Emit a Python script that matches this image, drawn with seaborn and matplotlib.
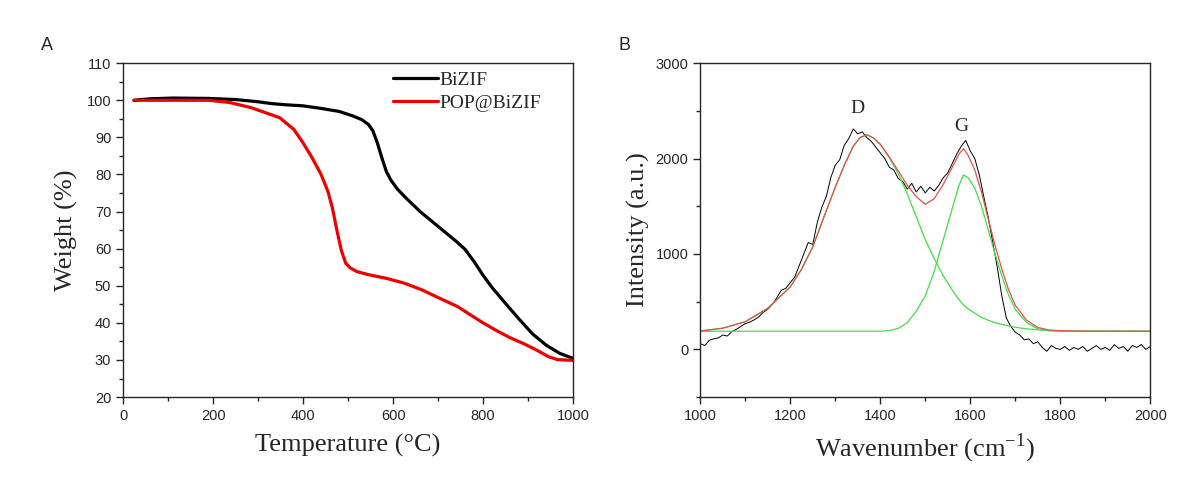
import numpy as np
import matplotlib
matplotlib.use("Agg")
import matplotlib.pyplot as plt
import seaborn as sns
from matplotlib.ticker import MultipleLocator

# ---- panel A: TGA ----
temp_bizif = [24, 60, 111, 190, 250, 300, 330, 360, 400, 440, 480, 510, 530, 545, 555, 565,
              575, 585, 595, 610, 630, 660, 700, 740, 760, 780, 800, 820, 850, 880, 910, 940,
              970, 1000]
weight_bizif = [100.0, 100.4, 100.6, 100.5, 100.2, 99.6, 99.1, 98.8, 98.5, 97.8, 97.0, 95.8,
                94.8, 93.5, 91.8, 88.5, 84.5, 80.8, 78.5, 76.0, 73.5, 70.0, 66.0, 62.0, 59.8,
                56.5, 52.8, 49.5, 45.2, 41.0, 37.0, 34.0, 31.8, 30.4]

temp_pop = [24, 190, 237, 285, 348, 379, 400, 420, 440, 455, 465, 475, 485, 495, 505, 520,
            545, 585, 625, 664, 704, 743, 770, 800, 830, 860, 890, 920, 945, 965, 1000]
weight_pop = [100.0, 100.0, 99.4, 98.0, 95.3, 92.2, 88.5, 84.5, 80.0, 75.5, 71.0, 65.0, 59.5,
              56.0, 54.8, 53.8, 53.0, 52.0, 50.7, 48.9, 46.6, 44.4, 42.3, 40.0, 37.9, 36.0,
              34.4, 32.6, 30.9, 30.1, 29.9]

# ---- panel B: Raman ----
wn_raw = list(range(1000, 2001, 10))
int_raw = [60, 40, 95, 110, 120, 150, 140, 185, 210, 240,
           270, 285, 310, 340, 390, 420, 470, 540, 620, 640,
           700, 760, 880, 1000, 1120, 1100, 1330, 1490, 1600, 1800,
           1930, 1990, 2140, 2210, 2310, 2260, 2280, 2220, 2180, 2120,
           2060, 2000, 1910, 1880, 1790, 1760, 1680, 1740, 1650, 1710,
           1640, 1700, 1660, 1720, 1800, 1850, 1950, 2050, 2130, 2190,
           2080, 2000, 1830, 1600, 1380, 1120, 860, 560, 330, 240,
           180, 150, 100, 110, 60, 80, 20, -20, 40, 10,
           0, 30, -10, 20, 0, 30, -20, 10, 40, 0,
           20, -10, 50, 10, 30, -20, 40, 20, 50, 0,
           30]

wn_fit = [1000, 1050, 1100, 1150, 1200, 1225, 1250, 1275, 1300, 1320, 1340, 1355, 1370, 1385,
          1400, 1420, 1440, 1460, 1480, 1500, 1520, 1540, 1560, 1575, 1585, 1595, 1610, 1625,
          1640, 1655, 1670, 1685, 1700, 1725, 1750, 1775, 1800, 1850, 2000]
peak_d = [192, 222, 290, 430, 655, 840, 1075, 1390, 1700, 1930, 2130, 2220, 2250, 2215,
          2150, 2010, 1840, 1630, 1390, 1150, 950, 770, 620, 520, 465, 425, 380, 335,
          305, 280, 262, 246, 232, 215, 205, 198, 195, 191, 190]
peak_g = [190, 190, 190, 190, 190, 190, 190, 190, 190, 190, 190, 190, 190, 190,
          190, 196, 220, 280, 400, 560, 820, 1150, 1480, 1720, 1830, 1800, 1690, 1500,
          1250, 1000, 770, 570, 420, 280, 215, 195, 191, 190, 190]
fit_sum = [192, 222, 290, 430, 655, 840, 1075, 1390, 1700, 1930, 2130, 2220, 2250, 2215,
           2150, 2016, 1870, 1720, 1600, 1520, 1580, 1730, 1910, 2050, 2105, 2035, 1880, 1645,
           1365, 1090, 842, 626, 462, 305, 230, 203, 196, 191, 190]

sns.set_style("ticks")
plt.rcParams["font.family"] = ["Liberation Sans", "DejaVu Sans"]
plt.rcParams["mathtext.fontset"] = "custom"
plt.rcParams["mathtext.rm"] = "Liberation Serif"
serif = ["Liberation Serif", "DejaVu Serif"]

fig = plt.figure(figsize=(11.95, 4.86), dpi=100)
ax1 = fig.add_axes([0.103, 0.183, 0.3766, 0.687])
ax2 = fig.add_axes([0.586, 0.183, 0.3766, 0.687])

sns.lineplot(x=temp_bizif, y=weight_bizif, ax=ax1, color="black", lw=2.3, label="BiZIF",
             sort=False, estimator=None)
sns.lineplot(x=temp_pop, y=weight_pop, ax=ax1, color="#ee0000", lw=2.3, label="POP@BiZIF",
             sort=False, estimator=None)
ax1.set_xlim(0, 1000)
ax1.set_ylim(20, 110)
ax1.xaxis.set_major_locator(MultipleLocator(200))
ax1.xaxis.set_minor_locator(MultipleLocator(100))
ax1.yaxis.set_major_locator(MultipleLocator(10))
ax1.yaxis.set_minor_locator(MultipleLocator(5))
ax1.set_xlabel("Temperature (°C)", family=serif, fontsize=19, labelpad=8)
ax1.set_ylabel("Weight (%)", family=serif, fontsize=19, labelpad=6)
ax1.legend(loc="upper left", bbox_to_anchor=(0.6, 0.975), frameon=False,
           prop={"family": serif, "size": 14}, handlelength=2.3, handletextpad=0.1,
           labelspacing=0.25, borderpad=0, borderaxespad=0)

sns.lineplot(x=wn_raw, y=int_raw, ax=ax2, color="black", lw=0.7, sort=False, estimator=None)
sns.lineplot(x=wn_fit, y=peak_d, ax=ax2, color="#44dd44", lw=0.9, sort=False, estimator=None)
sns.lineplot(x=wn_fit, y=peak_g, ax=ax2, color="#44dd44", lw=0.9, sort=False, estimator=None)
sns.lineplot(x=wn_fit, y=fit_sum, ax=ax2, color="#e05050", lw=0.9, sort=False, estimator=None)
ax2.set_xlim(1000, 2000)
ax2.set_ylim(-500, 3000)
ax2.xaxis.set_major_locator(MultipleLocator(200))
ax2.xaxis.set_minor_locator(MultipleLocator(100))
ax2.yaxis.set_major_locator(MultipleLocator(1000))
ax2.yaxis.set_minor_locator(MultipleLocator(500))
ax2.set_xlabel("Wavenumber (cm$^{-1}$)", family=serif, fontsize=19, labelpad=6)
ax2.set_ylabel("Intensity (a.u.)", family=serif, fontsize=19)
ax2.text(1350, 2530, "D", family=serif, fontsize=14, ha="center", va="center")
ax2.text(1580, 2340, "G", family=serif, fontsize=14, ha="center", va="center")

for ax in (ax1, ax2):
    for s in ax.spines.values():
        s.set_visible(True)
        s.set_linewidth(1.0)
    ax.tick_params(which="major", direction="out", length=5, width=1, labelsize=10.5,
                   top=False, right=False)
    ax.tick_params(which="minor", direction="out", length=3, width=1, top=False, right=False)

fig.text(47 / 1195, 1 - 45 / 486, "A", fontsize=13, ha="center", va="center")
fig.text(625 / 1195, 1 - 45 / 486, "B", fontsize=13, ha="center", va="center")

fig.savefig("out.png", dpi=100)
